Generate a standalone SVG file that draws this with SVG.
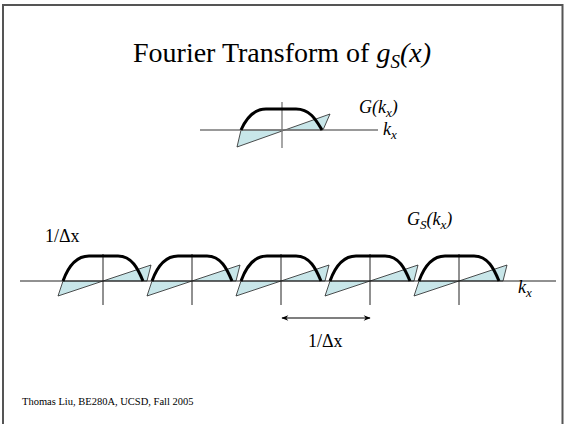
<svg xmlns="http://www.w3.org/2000/svg" width="564" height="424" viewBox="0 0 564 424">
<defs>
<style>
.t{font-family:"Liberation Serif","Times New Roman",serif;fill:#000}
.i{font-style:italic}
.fill{fill:#c8e6e9;stroke:#222;stroke-width:0.8;stroke-linejoin:round}
.ax1{stroke:#777;stroke-width:1.3;fill:none}
.ax2{stroke:#222;stroke-width:1;fill:none}
.crv{stroke:#000;stroke-width:3;fill:none;stroke-linejoin:round}
</style>
<marker id="ah" viewBox="0 0 10 10" refX="9" refY="5" markerWidth="9" markerHeight="7" orient="auto-start-reverse" markerUnits="userSpaceOnUse">
<path d="M0,1 L10,5 L0,9 L3,5 Z" fill="#000"/>
</marker>
</defs>
<rect width="564" height="424" fill="#fff"/>
<path d="M3,424 V5 H562.5 V424" fill="none" stroke="#555" stroke-width="2"/>

<g id="title">
<text class="t" x="133" y="62" font-size="28">Fourier Transform of <tspan class="i">g</tspan><tspan class="i" font-size="19" dy="6">S</tspan><tspan class="i" dy="-6">(x)</tspan></text>
</g>

<g id="top-plot">
<polygon class="fill" points="241,130 237,147 330,114 323,130"/>
<line class="ax1" x1="200" y1="130" x2="378" y2="130"/>
<line class="ax1" x1="282" y1="102" x2="282" y2="148"/>
<path class="crv" d="M241,130 C245,121 252,109 266,109 L296,109 C310,109 316,120 322,130"/>
</g>
<g id="label-G">
<text class="t i" x="359" y="113" font-size="18">G(k<tspan font-size="13" dy="4">x</tspan><tspan dy="-4">)</tspan></text>
</g>
<g id="label-kx-top">
<text class="t i" x="383" y="135" font-size="18">k<tspan font-size="13" dy="4">x</tspan></text>
</g>

<g id="bottom-plot">
<g id="copies-fill">
<polygon class="fill" points="63,281 58,296 151,265 147,281"/>
<polygon class="fill" points="152,281 147,296 240,265 236,281"/>
<polygon class="fill" points="241,281 236,296 329,265 325,281"/>
<polygon class="fill" points="330,281 325,296 418,265 414,281"/>
<polygon class="fill" points="419,281 414,296 507,265 503,281"/>
</g>
<line class="ax2" x1="20" y1="281" x2="556" y2="281"/>
<line class="ax2" x1="103" y1="254" x2="103" y2="305"/>
<line class="ax2" x1="192" y1="254" x2="192" y2="305"/>
<line class="ax2" x1="281" y1="254" x2="281" y2="305"/>
<line class="ax2" x1="370" y1="254" x2="370" y2="305"/>
<line class="ax2" x1="459" y1="254" x2="459" y2="305"/>
<g id="copies-curve">
<path class="crv" d="M63,281 C67,270 74,256 89,256 L118,256 C132,256 138,269 143,281"/>
<path class="crv" d="M152,281 C156,270 163,256 178,256 L207,256 C221,256 227,269 232,281"/>
<path class="crv" d="M241,281 C245,270 252,256 267,256 L296,256 C310,256 316,269 321,281"/>
<path class="crv" d="M330,281 C334,270 341,256 356,256 L385,256 C399,256 405,269 410,281"/>
<path class="crv" d="M419,281 C423,270 430,256 445,256 L474,256 C488,256 494,269 499,281"/>
</g>
</g>
<g id="label-Gs">
<text class="t i" x="407" y="225" font-size="18">G<tspan font-size="13" dy="4">S</tspan><tspan dy="-4">(k</tspan><tspan font-size="13" dy="4">x</tspan><tspan dy="-4">)</tspan></text>
</g>
<g id="label-kx-bottom">
<text class="t i" x="518" y="293" font-size="18">k<tspan font-size="13" dy="4">x</tspan></text>
</g>
<g id="label-period-left">
<text class="t" x="45" y="242" font-size="18">1/Δx</text>
</g>
<g id="connectors">
<line x1="282" y1="318" x2="370" y2="318" stroke="#000" stroke-width="1.2" marker-start="url(#ah)" marker-end="url(#ah)"/>
</g>
<g id="label-period">
<text class="t" x="308" y="347" font-size="18">1/Δx</text>
</g>
<g id="footer">
<text class="t" x="22" y="405" font-size="10.5">Thomas Liu, BE280A, UCSD, Fall 2005</text>
</g>
</svg>
